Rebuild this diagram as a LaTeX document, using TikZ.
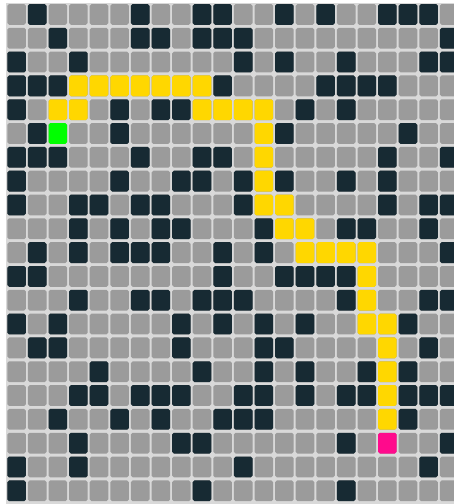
\documentclass[tikz,border=0pt]{standalone}
\usepackage{tikz}
\definecolor{wall}{HTML}{172A33}
\definecolor{free}{HTML}{9B9B9B}
\definecolor{gapc}{HTML}{D9D9D9}
\definecolor{pathc}{HTML}{FFD700}
\definecolor{startc}{HTML}{00FF00}
\definecolor{goalc}{HTML}{FF0A8C}
\tikzset{cellbox/.style={rounded corners=1.8pt}}
\newcommand{\cellfill}[3]{\fill[#3,cellbox] ({7.3+20.6*#1},{4+23.82*#2}) rectangle ++(18.6,20.8);}
\begin{document}
\begin{tikzpicture}[x=1pt,y=-1pt]
\path[use as bounding box] (0,0) rectangle (454,504);
\clip (0,0) rectangle (454,504);
\fill[white] (0,0) rectangle (454,504);
\fill[gapc] (6.3,3) rectangle (454,504);
% free cells
\foreach \r in {0,...,20}{\foreach \c in {0,...,21}{\cellfill{\c}{\r}{free}}}
% walls
\foreach \r/\cs in {
 0/{1,6,9,10,13,15,18,19,20},
 1/{2,6,7,9,10,11,21},
 2/{0,3,11,13,16,20,21},
 3/{0,1,2,10,15,16,17,18},
 4/{0,5,7,8,14,16},
 5/{1,5,13,19},
 6/{0,1,2,6,9,10,18,21},
 7/{0,5,8,9,11,13,16,18},
 8/{0,3,4,6,7,11,18,20,21},
 9/{3,5,7,8,12,16,17,20},
 10/{1,3,5,6,7,10,12,21},
 11/{0,1,10,13,14,15,16},
 12/{3,6,7,9,10,11,16,20,21},
 13/{0,2,8,10,12,14,19},
 14/{1,2,8,12,13,20},
 15/{4,9,12,14,17,19},
 16/{3,4,6,7,8,11,12,14,16,17,19,20,21},
 17/{2,5,7,10,11,12,19},
 18/{3,8,9,16,21},
 19/{0,3,11,20},
 20/{0,9,16}}{\foreach \c in \cs {\cellfill{\c}{\r}{wall}}}
% path
\foreach \r/\cs in {
 3/{3,4,5,6,7,8,9},
 4/{2,3,9,10,11,12},
 5/{12}, 6/{12}, 7/{12},
 8/{12,13},
 9/{13,14},
 10/{14,15,16,17},
 11/{17}, 12/{17},
 13/{17,18},
 14/{18}, 15/{18}, 16/{18}, 17/{18}}{\foreach \c in \cs {\cellfill{\c}{\r}{pathc}}}
% start and goal
\cellfill{2}{5}{startc}
\cellfill{18}{18}{goalc}
\end{tikzpicture}
\end{document}
